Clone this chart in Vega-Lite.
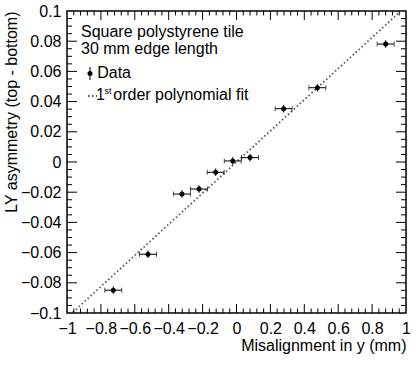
{
  "$schema": "https://vega.github.io/schema/vega-lite/v6.json",
  "autosize": "none",
  "width": 339,
  "height": 302,
  "padding": {"left": 67, "top": 11, "right": 13, "bottom": 52},
  "background": "white",
  "config": {
    "view": {"stroke": "black", "strokeWidth": 1.5},
    "font": "Liberation Sans",
    "axis": {"grid": false, "domain": false, "ticks": false, "labelColor": "black", "titleColor": "black", "labelFont": "Liberation Sans", "titleFont": "Liberation Sans", "labelFontSize": 16, "titleFontSize": 16, "titleFontWeight": "normal", "labelOverlap": false, "labelFlush": false}
  },
  "datasets": {
    "points": [
      {"x": -0.727, "y": -0.0849, "xlo": -0.777, "xhi": -0.677, "ylo": -0.0874, "yhi": -0.0824},
      {"x": -0.522, "y": -0.0611, "xlo": -0.572, "xhi": -0.472, "ylo": -0.0636, "yhi": -0.0586},
      {"x": -0.322, "y": -0.0212, "xlo": -0.372, "xhi": -0.272, "ylo": -0.0237, "yhi": -0.0187},
      {"x": -0.221, "y": -0.0179, "xlo": -0.271, "xhi": -0.171, "ylo": -0.0204, "yhi": -0.0154},
      {"x": -0.123, "y": -0.0068, "xlo": -0.173, "xhi": -0.073, "ylo": -0.0093, "yhi": -0.0043},
      {"x": -0.022, "y": 0.0007, "xlo": -0.072, "xhi": 0.028, "ylo": -0.0018, "yhi": 0.0032},
      {"x": 0.080, "y": 0.0029, "xlo": 0.030, "xhi": 0.130, "ylo": 0.0004, "yhi": 0.0054},
      {"x": 0.278, "y": 0.0353, "xlo": 0.228, "xhi": 0.328, "ylo": 0.0328, "yhi": 0.0378},
      {"x": 0.477, "y": 0.0492, "xlo": 0.427, "xhi": 0.527, "ylo": 0.0467, "yhi": 0.0517},
      {"x": 0.880, "y": 0.0781, "xlo": 0.830, "xhi": 0.930, "ylo": 0.0756, "yhi": 0.0806}
    ],
    "fit": [{"fx": -1, "fy": -0.1031}, {"fx": 1, "fy": 0.1031}],
    "xmajor": [{"v": -0.8}, {"v": -0.6}, {"v": -0.4}, {"v": -0.2}, {"v": 0}, {"v": 0.2}, {"v": 0.4}, {"v": 0.6}, {"v": 0.8}],
    "xminor": [{"v": -0.96}, {"v": -0.92}, {"v": -0.88}, {"v": -0.84}, {"v": -0.76}, {"v": -0.72}, {"v": -0.68}, {"v": -0.64}, {"v": -0.56}, {"v": -0.52}, {"v": -0.48}, {"v": -0.44}, {"v": -0.36}, {"v": -0.32}, {"v": -0.28}, {"v": -0.24}, {"v": -0.16}, {"v": -0.12}, {"v": -0.08}, {"v": -0.04}, {"v": 0.04}, {"v": 0.08}, {"v": 0.12}, {"v": 0.16}, {"v": 0.24}, {"v": 0.28}, {"v": 0.32}, {"v": 0.36}, {"v": 0.44}, {"v": 0.48}, {"v": 0.52}, {"v": 0.56}, {"v": 0.64}, {"v": 0.68}, {"v": 0.72}, {"v": 0.76}, {"v": 0.84}, {"v": 0.88}, {"v": 0.92}, {"v": 0.96}],
    "ymajor": [{"v": -0.08}, {"v": -0.06}, {"v": -0.04}, {"v": -0.02}, {"v": 0}, {"v": 0.02}, {"v": 0.04}, {"v": 0.06}, {"v": 0.08}],
    "yminor": [{"v": -0.095}, {"v": -0.09}, {"v": -0.085}, {"v": -0.075}, {"v": -0.07}, {"v": -0.065}, {"v": -0.055}, {"v": -0.05}, {"v": -0.045}, {"v": -0.035}, {"v": -0.03}, {"v": -0.025}, {"v": -0.015}, {"v": -0.01}, {"v": -0.005}, {"v": 0.005}, {"v": 0.01}, {"v": 0.015}, {"v": 0.025}, {"v": 0.03}, {"v": 0.035}, {"v": 0.045}, {"v": 0.05}, {"v": 0.055}, {"v": 0.065}, {"v": 0.07}, {"v": 0.075}, {"v": 0.085}, {"v": 0.09}, {"v": 0.095}]
  },
  "resolve": {"axis": {"x": "independent", "y": "independent"}},
  "layer": [
    {
      "data": {"name": "fit"},
      "mark": {"type": "line", "stroke": "#555555", "strokeWidth": 1.8, "strokeDash": [1.5, 2.5], "clip": true},
      "encoding": {
        "x": {"field": "fx", "type": "quantitative", "scale": {"domain": [-1, 1], "nice": false, "zero": false},
          "axis": {"orient": "bottom", "values": [-1, -0.8, -0.6, -0.4, -0.2, 0, 0.2, 0.4, 0.6, 0.8, 1], "format": "~f", "labelOverlap": false, "labelPadding": 7, "title": "Misalignment in y (mm)", "titleAnchor": "end", "titlePadding": 1}},
        "y": {"field": "fy", "type": "quantitative", "scale": {"domain": [-0.1, 0.1], "nice": false, "zero": false},
          "axis": {"orient": "left", "values": [-0.1, -0.08, -0.06, -0.04, -0.02, 0, 0.02, 0.04, 0.06, 0.08, 0.1], "format": "~f", "labelOverlap": false, "labelPadding": 6, "title": "LY asymmetry (top - bottom)", "titleAnchor": "end", "titlePadding": 1}}
      }
    },
    {
      "data": {"name": "xmajor"},
      "mark": {"type": "rule", "color": "black", "strokeWidth": 1},
      "encoding": {
        "x": {"field": "v", "type": "quantitative", "axis": null},
        "y": {"datum": -0.1, "type": "quantitative", "axis": null},
        "y2": {"datum": -0.09404}
      }
    },
    {
      "data": {"name": "xmajor"},
      "mark": {"type": "rule", "color": "black", "strokeWidth": 1},
      "encoding": {
        "x": {"field": "v", "type": "quantitative", "axis": null},
        "y": {"datum": 0.1, "type": "quantitative", "axis": null},
        "y2": {"datum": 0.09404}
      }
    },
    {
      "data": {"name": "xminor"},
      "mark": {"type": "rule", "color": "black", "strokeWidth": 1},
      "encoding": {
        "x": {"field": "v", "type": "quantitative", "axis": null},
        "y": {"datum": -0.1, "type": "quantitative", "axis": null},
        "y2": {"datum": -0.09702}
      }
    },
    {
      "data": {"name": "xminor"},
      "mark": {"type": "rule", "color": "black", "strokeWidth": 1},
      "encoding": {
        "x": {"field": "v", "type": "quantitative", "axis": null},
        "y": {"datum": 0.1, "type": "quantitative", "axis": null},
        "y2": {"datum": 0.09702}
      }
    },
    {
      "data": {"name": "ymajor"},
      "mark": {"type": "rule", "color": "black", "strokeWidth": 1},
      "encoding": {
        "y": {"field": "v", "type": "quantitative", "axis": null},
        "x": {"datum": -1, "type": "quantitative", "axis": null},
        "x2": {"datum": -0.941}
      }
    },
    {
      "data": {"name": "ymajor"},
      "mark": {"type": "rule", "color": "black", "strokeWidth": 1},
      "encoding": {
        "y": {"field": "v", "type": "quantitative", "axis": null},
        "x": {"datum": 1, "type": "quantitative", "axis": null},
        "x2": {"datum": 0.941}
      }
    },
    {
      "data": {"name": "yminor"},
      "mark": {"type": "rule", "color": "black", "strokeWidth": 1},
      "encoding": {
        "y": {"field": "v", "type": "quantitative", "axis": null},
        "x": {"datum": -1, "type": "quantitative", "axis": null},
        "x2": {"datum": -0.9705}
      }
    },
    {
      "data": {"name": "yminor"},
      "mark": {"type": "rule", "color": "black", "strokeWidth": 1},
      "encoding": {
        "y": {"field": "v", "type": "quantitative", "axis": null},
        "x": {"datum": 1, "type": "quantitative", "axis": null},
        "x2": {"datum": 0.9705}
      }
    },
    {
      "data": {"name": "points"},
      "mark": {"type": "rule", "color": "black", "strokeWidth": 1},
      "encoding": {
        "x": {"field": "xlo", "type": "quantitative", "axis": null},
        "x2": {"field": "xhi"},
        "y": {"field": "y", "type": "quantitative", "axis": null}
      }
    },
    {
      "data": {"name": "points"},
      "mark": {"type": "tick", "orient": "vertical", "size": 5, "thickness": 1, "color": "black"},
      "encoding": {
        "x": {"field": "xlo", "type": "quantitative", "axis": null},
        "y": {"field": "y", "type": "quantitative", "axis": null}
      }
    },
    {
      "data": {"name": "points"},
      "mark": {"type": "tick", "orient": "vertical", "size": 5, "thickness": 1, "color": "black"},
      "encoding": {
        "x": {"field": "xhi", "type": "quantitative", "axis": null},
        "y": {"field": "y", "type": "quantitative", "axis": null}
      }
    },
    {
      "data": {"name": "points"},
      "mark": {"type": "rule", "color": "black", "strokeWidth": 1},
      "encoding": {
        "x": {"field": "x", "type": "quantitative", "axis": null},
        "y": {"field": "ylo", "type": "quantitative", "axis": null},
        "y2": {"field": "yhi"}
      }
    },
    {
      "data": {"name": "points"},
      "mark": {"type": "point", "shape": "circle", "filled": true, "size": 25, "color": "black", "opacity": 1},
      "encoding": {
        "x": {"field": "x", "type": "quantitative", "axis": null},
        "y": {"field": "y", "type": "quantitative", "axis": null}
      }
    },
    {
      "data": {"values": [{"label": "Square polystyrene tile"}]},
      "mark": {"type": "text", "align": "left", "baseline": "alphabetic", "fontSize": 16, "font": "Liberation Sans", "color": "black"},
      "encoding": {
        "x": {"datum": -0.9174, "type": "quantitative", "axis": null},
        "y": {"datum": 0.0826, "type": "quantitative", "axis": null},
        "text": {"field": "label"}
      }
    },
    {
      "data": {"values": [{"label": "30 mm edge length"}]},
      "mark": {"type": "text", "align": "left", "baseline": "alphabetic", "fontSize": 16, "font": "Liberation Sans", "color": "black"},
      "encoding": {
        "x": {"datum": -0.9174, "type": "quantitative", "axis": null},
        "y": {"datum": 0.0713, "type": "quantitative", "axis": null},
        "text": {"field": "label"}
      }
    },
    {
      "data": {"values": [{"label": "Data"}]},
      "mark": {"type": "text", "align": "left", "baseline": "alphabetic", "fontSize": 16, "font": "Liberation Sans", "color": "black"},
      "encoding": {
        "x": {"datum": -0.8218, "type": "quantitative", "axis": null},
        "y": {"datum": 0.0554, "type": "quantitative", "axis": null},
        "text": {"field": "label"}
      }
    },
    {
      "data": {"values": [{"label": "1"}]},
      "mark": {"type": "text", "align": "left", "baseline": "alphabetic", "fontSize": 16, "font": "Liberation Sans", "color": "black"},
      "encoding": {
        "x": {"datum": -0.8289, "type": "quantitative", "axis": null},
        "y": {"datum": 0.0411, "type": "quantitative", "axis": null},
        "text": {"field": "label"}
      }
    },
    {
      "data": {"values": [{"label": "st"}]},
      "mark": {"type": "text", "align": "left", "baseline": "alphabetic", "fontSize": 9, "font": "Liberation Sans", "color": "black"},
      "encoding": {
        "x": {"datum": -0.7788, "type": "quantitative", "axis": null},
        "y": {"datum": 0.0452, "type": "quantitative", "axis": null},
        "text": {"field": "label"}
      }
    },
    {
      "data": {"values": [{"label": "order polynomial fit"}]},
      "mark": {"type": "text", "align": "left", "baseline": "alphabetic", "fontSize": 16, "font": "Liberation Sans", "color": "black"},
      "encoding": {
        "x": {"datum": -0.727, "type": "quantitative", "axis": null},
        "y": {"datum": 0.0411, "type": "quantitative", "axis": null},
        "text": {"field": "label"}
      }
    },
    {
      "data": {"values": [{"item": "Data"}]},
      "mark": {"type": "rule", "color": "black", "strokeWidth": 1},
      "encoding": {
        "x": {"datum": -0.8643, "type": "quantitative", "axis": null},
        "y": {"datum": 0.0543, "type": "quantitative", "axis": null},
        "y2": {"datum": 0.0629}
      }
    },
    {
      "data": {"values": [{"item": "Data"}]},
      "mark": {"type": "point", "shape": "circle", "filled": true, "size": 25, "color": "black", "opacity": 1},
      "encoding": {
        "x": {"datum": -0.8643, "type": "quantitative", "axis": null},
        "y": {"datum": 0.0586, "type": "quantitative", "axis": null}
      }
    },
    {
      "data": {"values": [{"item": "fit"}]},
      "mark": {"type": "rule", "stroke": "#555555", "strokeWidth": 1.8, "strokeDash": [1.5, 2.5]},
      "encoding": {
        "x": {"datum": -0.876, "type": "quantitative", "axis": null},
        "x2": {"datum": -0.823},
        "y": {"datum": 0.0437, "type": "quantitative", "axis": null}
      }
    }
  ]
}
